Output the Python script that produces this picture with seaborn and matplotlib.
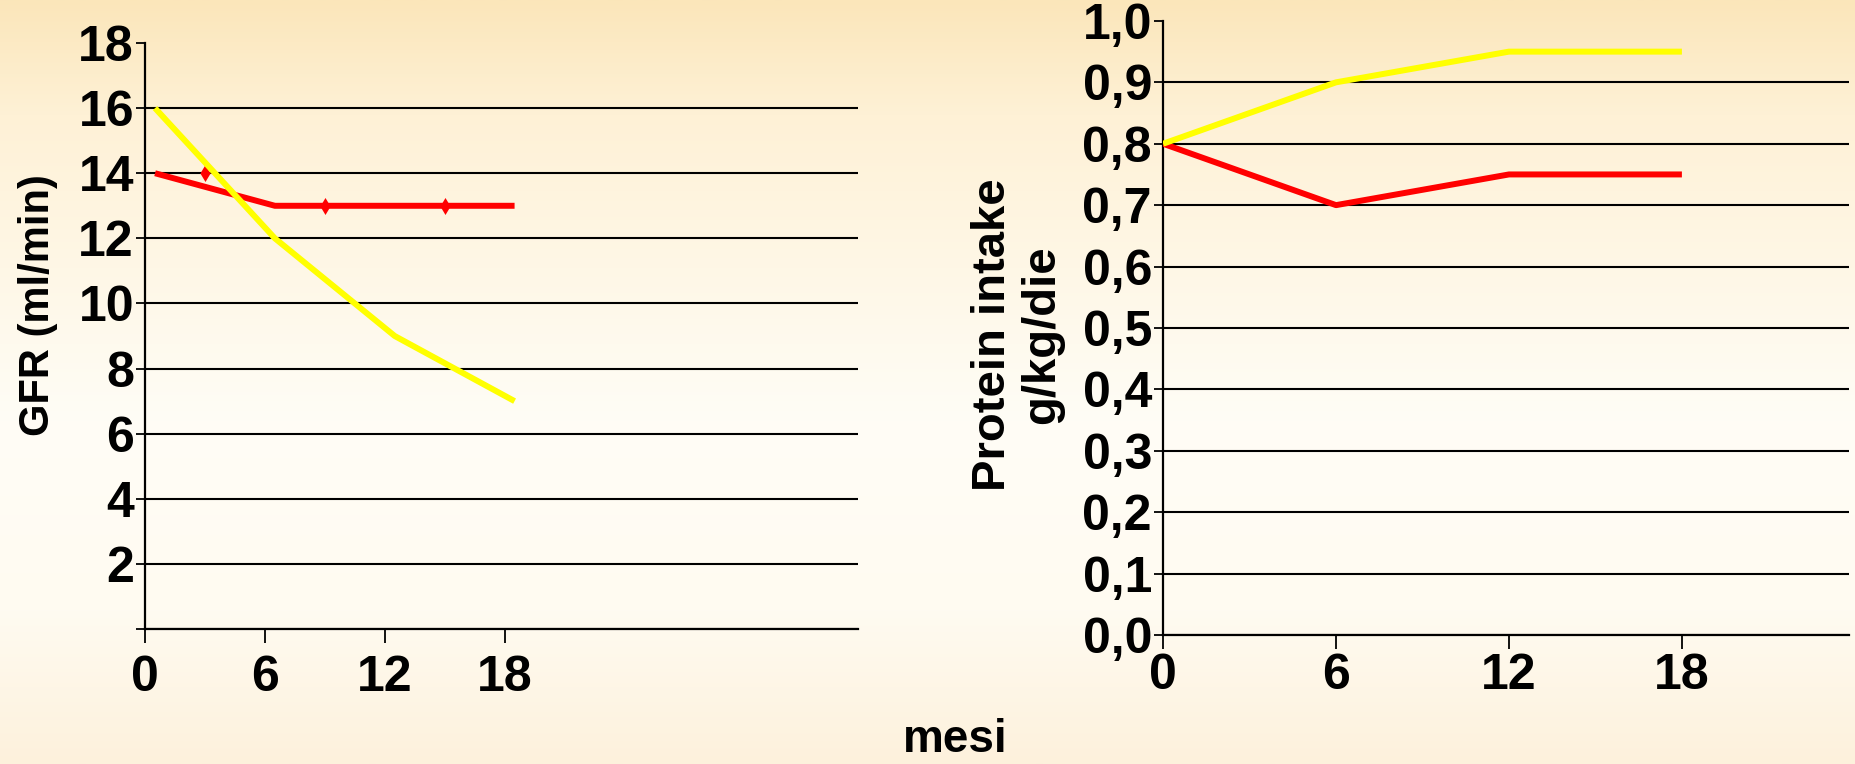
import numpy as np
import pandas as pd
import seaborn as sns
import matplotlib.pyplot as plt

# GFR panel (left)
mesi_gfr = [0.5, 6.5, 12.5, 18.5]
gfr_giallo = [16, 12, 9, 7]
gfr_rosso = [14, 13, 13, 13]
mesi_punti = [3, 9, 15]
gfr_punti = [14, 13, 13]

# protein intake panel (right)
mesi_prot = [0, 6, 12, 18]
prot_giallo = [0.8, 0.9, 0.95, 0.95]
prot_rosso = [0.8, 0.7, 0.75, 0.75]

x_ticks = [0, 6, 12, 18]
gfr_ticks = list(range(0, 19, 2))
gfr_labels = [''] + [str(v) for v in gfr_ticks[1:]]
prot_ticks = [i / 10 for i in range(11)]
prot_labels = [f'{v:.1f}'.replace('.', ',') for v in prot_ticks]

sns.set_style('white')
plt.rcParams['font.family'] = ['Liberation Sans', 'DejaVu Sans']
plt.rcParams['font.weight'] = 'bold'
plt.rcParams['text.color'] = 'black'
plt.rcParams['xtick.color'] = 'black'
plt.rcParams['ytick.color'] = 'black'
plt.rcParams['axes.labelcolor'] = 'black'

GIALLO = '#FFFF00'
ROSSO = '#FF0000'

fig = plt.figure(figsize=(18.55, 7.64), dpi=100)

# cream background gradient
bg = fig.add_axes([0, 0, 1, 1], zorder=-10)
stops = np.array([0.0, 0.15, 0.55, 0.8, 1.0])
cols = np.array([[251, 230, 186], [254, 241, 214], [255, 253, 246],
                 [255, 251, 241], [253, 241, 220]]) / 255
yy = np.linspace(0, 1, 400)
grad = np.stack([np.interp(yy, stops, cols[:, k]) for k in range(3)], axis=1)
bg.imshow(grad[:, None, :], aspect='auto', extent=[0, 1, 1, 0])
bg.set_xlim(0, 1)
bg.set_ylim(1, 0)
bg.axis('off')

ax1 = fig.add_axes([0.0782, 0.1767, 0.3844, 0.767])
ax2 = fig.add_axes([0.627, 0.1689, 0.3698, 0.8037])

df_gfr = pd.DataFrame({'mesi': mesi_gfr, 'giallo': gfr_giallo, 'rosso': gfr_rosso})
df_punti = pd.DataFrame({'mesi': mesi_punti, 'gfr': gfr_punti})
df_prot = pd.DataFrame({'mesi': mesi_prot, 'giallo': prot_giallo, 'rosso': prot_rosso})

sns.lineplot(data=df_gfr, x='mesi', y='rosso', ax=ax1, color=ROSSO, lw=4.3,
             solid_capstyle='butt', zorder=3)
sns.scatterplot(data=df_punti, x='mesi', y='gfr', ax=ax1, color=ROSSO, marker='d',
                s=75, edgecolor=ROSSO, linewidth=0, zorder=4)
sns.lineplot(data=df_gfr, x='mesi', y='giallo', ax=ax1, color=GIALLO, lw=4.3,
             solid_capstyle='butt', zorder=5)

sns.lineplot(data=df_prot, x='mesi', y='giallo', ax=ax2, color=GIALLO, lw=4.3,
             solid_capstyle='butt', zorder=5)
sns.lineplot(data=df_prot, x='mesi', y='rosso', ax=ax2, color=ROSSO, lw=4.3,
             solid_capstyle='butt', zorder=4)

for ax, xmax, yt, yl, ylim, xpad in [(ax1, 35.7, gfr_ticks, gfr_labels, (0, 18), 9),
                                     (ax2, 23.8, prot_ticks, prot_labels, (0, 1.0), 3)]:
    ax.set_facecolor('none')
    ax.set_xlim(0, xmax)
    ax.set_ylim(*ylim)
    ax.set_xticks(x_ticks)
    ax.set_xticklabels([str(v) for v in x_ticks])
    ax.set_yticks(yt)
    ax.set_yticklabels(yl)
    ax.set_xlabel('')
    ax.set_ylabel('')
    for s in ['top', 'right']:
        ax.spines[s].set_visible(False)
    for s in ['left', 'bottom']:
        ax.spines[s].set_color('black')
        ax.spines[s].set_linewidth(1.6)
    ax.yaxis.grid(True, color='black', lw=1.5)
    ax.yaxis.get_gridlines()[-1].set_visible(False)
    ax.set_axisbelow(True)
    ax.tick_params(axis='y', direction='out', length=6.5, width=1.3, color='black',
                   left=True, pad=1.5, labelsize=36, labelcolor='black')
    ax.tick_params(axis='x', direction='out', length=10, width=1.3, color='black',
                   bottom=True, pad=xpad, labelsize=36, labelcolor='black')
    for lab in ax.get_xticklabels() + ax.get_yticklabels():
        lab.set_fontweight('bold')

fig.text(38 / 1855, 1 - 305 / 764, 'GFR (ml/min)', rotation=90, ha='center',
         va='center', fontsize=30, fontweight='bold', color='black')
fig.text(1018 / 1855, 1 - 335 / 764, 'Protein intake\ng/kg/die', rotation=90,
         ha='center', va='center', fontsize=34, fontweight='bold', color='black',
         multialignment='center', linespacing=1.15)
fig.text(955 / 1855, 1 - 740 / 764, 'mesi', ha='center', va='center',
         fontsize=33, fontweight='bold', color='black')

fig.savefig('out.png', dpi=100)
